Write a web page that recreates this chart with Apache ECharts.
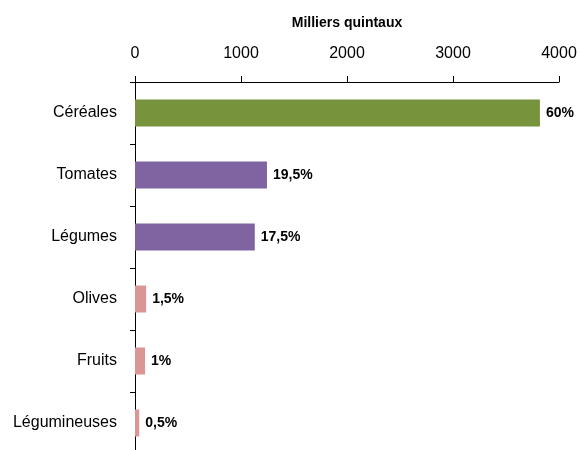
<!DOCTYPE html>
<html>
<head>
<meta charset="utf-8">
<script src="https://cdn.jsdelivr.net/npm/echarts@6/dist/echarts.min.js"></script>
<style>html,body{margin:0;padding:0;background:#fff}#c{width:580px;height:450px}</style>
</head>
<body>
<div id="c"></div>
<script>
const categories = ['Céréales', 'Tomates', 'Légumes', 'Olives', 'Fruits', 'Légumineuses'];
const values = [3820, 1245, 1130, 105, 95, 40];
const shares = ['60%', '19,5%', '17,5%', '1,5%', '1%', '0,5%'];
const xTicks = [0, 1000, 2000, 3000, 4000];
const axisTitle = 'Milliers quintaux';

const barColors = ['#77933C', '#8064A2', '#8064A2', '#D99694', '#D99694', '#D99694'];
const FONT = '"Liberation Sans", Arial, sans-serif';

const chart = echarts.init(document.getElementById('c'), null, {renderer: 'canvas'});
chart.setOption({
  animation: false,
  backgroundColor: '#fff',
  grid: {left: 135, top: 82, width: 424, height: 372, containLabel: false, outerBoundsMode: 'none'},
  xAxis: {
    type: 'value',
    position: 'top',
    min: xTicks[0],
    max: xTicks[xTicks.length - 1],
    interval: xTicks[1] - xTicks[0],
    name: axisTitle,
    nameLocation: 'middle',
    nameGap: 52,
    nameTextStyle: {fontFamily: FONT, fontWeight: 'bold', fontSize: 14, color: '#000'},
    axisLine: {show: true, lineStyle: {color: '#000', width: 1}},
    axisTick: {show: true, inside: false, length: 6, lineStyle: {color: '#000'}},
    axisLabel: {fontFamily: FONT, fontSize: 16, color: '#000', margin: 20, formatter: v => String(v)},
    splitLine: {show: false}
  },
  yAxis: {
    type: 'category',
    inverse: true,
    data: categories,
    axisLine: {show: true, lineStyle: {color: '#000', width: 1}},
    axisTick: {show: true, inside: false, length: 5, alignWithLabel: false, lineStyle: {color: '#000'}},
    axisLabel: {fontFamily: FONT, fontSize: 16, color: '#000', margin: 18},
    splitLine: {show: false}
  },
  series: [{
    type: 'bar',
    barWidth: 27,
    data: values.map((v, i) => ({value: v, itemStyle: {color: barColors[i]}})),
    label: {
      show: true,
      position: 'right',
      distance: 6,
      formatter: p => shares[p.dataIndex],
      fontFamily: FONT,
      fontWeight: 'bold',
      fontSize: 14,
      color: '#000'
    }
  }]
});
</script>
</body>
</html>
